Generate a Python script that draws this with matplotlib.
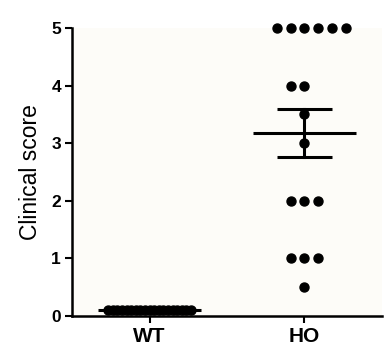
import numpy as np
import matplotlib.pyplot as plt

plt.rcParams['font.family'] = ['Liberation Sans', 'DejaVu Sans']

groups = ['WT', 'HO']
wt_scores = [0.1] * 19
ho_scores = [5, 5, 5, 5, 5, 5, 4, 4, 3.5, 3, 2, 2, 2, 1, 1, 1, 0.5]
# horizontal dot offsets (in dot widths) used by the scatter layout
ho_offsets = [-2, -1, 0, 1, 2, 3, -1, 0, 0, 0, -1, 0, 1, -1, 0, 1, 0]
wt_offsets = list(np.linspace(-3, 3, len(wt_scores)))

fig = plt.figure(figsize=(3.9, 3.54), dpi=100)
ax = fig.add_axes([0.185, 0.107, 0.794, 0.814])
ax.set_facecolor('#fdfcf8')

step = 0.089
ax.scatter(np.array(wt_offsets) * step, wt_scores, s=42, color='black', zorder=3, clip_on=False)
ax.scatter(1 + np.array(ho_offsets) * step, ho_scores, s=42, color='black', zorder=3, clip_on=False)

for i, vals in enumerate([wt_scores, ho_scores]):
    vals = np.array(vals)
    m = vals.mean()
    sem = vals.std(ddof=1) / np.sqrt(len(vals))
    ax.plot([i - 0.335, i + 0.335], [m, m], color='black', lw=2.2, zorder=4, solid_capstyle='butt', clip_on=False)
    ax.plot([i - 0.177, i + 0.177], [m + sem, m + sem], color='black', lw=2.2, zorder=4, solid_capstyle='butt')
    ax.plot([i - 0.177, i + 0.177], [m - sem, m - sem], color='black', lw=2.2, zorder=4, solid_capstyle='butt')
    ax.plot([i, i], [m - sem, m + sem], color='black', lw=2.2, zorder=4)

ax.set_xlim(-0.5, 1.5)
ax.set_ylim(0, 5)
ax.set_xticks([0, 1])
ax.set_xticklabels(groups, fontsize=15, fontweight='bold')
ax.set_yticks(range(6))
ax.set_yticklabels([str(v) for v in range(6)], fontsize=12.5, fontweight='bold')
ax.set_ylabel('Clinical score', fontsize=16.5, labelpad=7)

for s in ['top', 'right']:
    ax.spines[s].set_visible(False)
for s in ['left', 'bottom']:
    ax.spines[s].set_linewidth(1.8)
ax.tick_params(width=1.5, length=5, pad=3)

fig.savefig('out.png', dpi=100)
